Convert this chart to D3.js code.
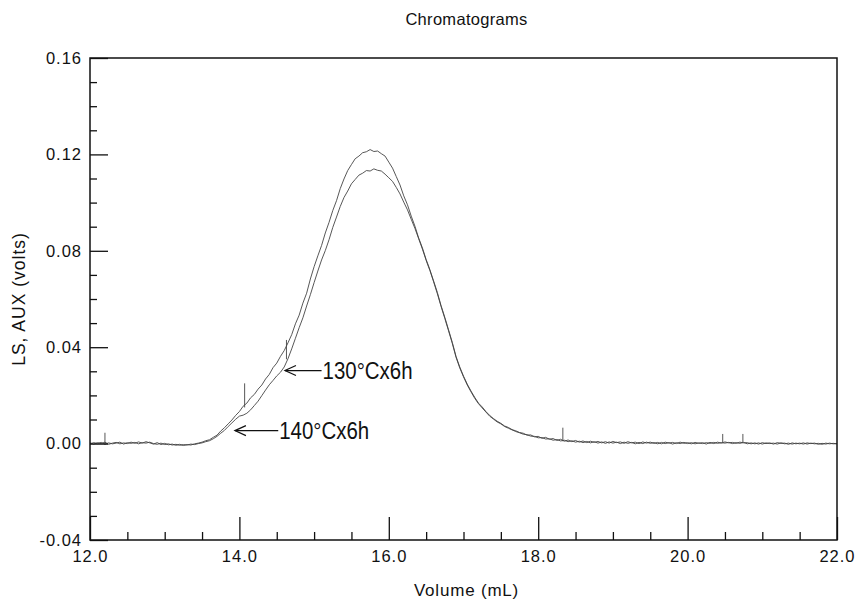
<!DOCTYPE html>
<html><head><meta charset="utf-8">
<script src="https://cdn.jsdelivr.net/npm/d3@7"></script>
<style>
body{margin:0;background:#fff;}
svg{display:block;}
text{font-family:"Liberation Sans",Arial,sans-serif;fill:#111;}
</style></head>
<body><svg id="c" width="856" height="601"></svg>
<script>
const title = "Chromatograms";
const xLabel = "Volume (mL)";
const yLabel = "LS, AUX (volts)";
const xTicks = [12.0, 14.0, 16.0, 18.0, 20.0, 22.0];
const xMinorTicks = [12.5,13.0,13.5,14.5,15.0,15.5,16.5,17.0,17.5,18.5,19.0,19.5,20.5,21.0,21.5];
const yTicks = [-0.04, 0.00, 0.04, 0.08, 0.12, 0.16];
const yMinorTicks = [-0.03,-0.02,-0.01,0.01,0.02,0.03,0.05,0.06,0.07,0.09,0.10,0.11,0.13,0.14,0.15];

const volume = [12.00,12.05,12.10,12.15,12.20,12.25,12.30,12.35,12.40,12.45,12.50,12.55,12.60,12.65,12.70,12.75,12.80,12.85,12.90,12.95,
13.00,13.05,13.10,13.15,13.20,13.25,13.30,13.35,13.40,13.45,13.50,13.55,13.60,13.65,13.70,13.75,13.80,13.85,13.90,13.95,
14.00,14.05,14.10,14.15,14.20,14.25,14.30,14.35,14.40,14.45,14.50,14.55,14.60,14.65,14.70,14.75,14.80,14.85,14.90,14.95,
15.00,15.05,15.10,15.15,15.20,15.25,15.30,15.35,15.40,15.45,15.50,15.55,15.60,15.65,15.70,15.75,15.80,15.85,15.90,15.95,
16.00,16.05,16.10,16.15,16.20,16.25,16.30,16.35,16.40,16.45,16.50,16.55,16.60,16.65,16.70,16.75,16.80,16.85,16.90,16.95,
17.00,17.05,17.10,17.15,17.20,17.25,17.30,17.35,17.40,17.45,17.50,17.55,17.60,17.65,17.70,17.75,17.80,17.85,17.90,17.95,
18.00,18.05,18.10,18.15,18.20,18.25,18.30,18.35,18.40,18.45,18.50,18.55,18.60,18.65,18.70,18.75,18.80,18.85,18.90,18.95,
19.00,19.05,19.10,19.15,19.20,19.25,19.30,19.35,19.40,19.45,19.50,19.55,19.60,19.65,19.70,19.75,19.80,19.85,19.90,19.95,
20.00,20.05,20.10,20.15,20.20,20.25,20.30,20.35,20.40,20.45,20.50,20.55,20.60,20.65,20.70,20.75,20.80,20.85,20.90,20.95,
21.00,21.05,21.10,21.15,21.20,21.25,21.30,21.35,21.40,21.45,21.50,21.55,21.60,21.65,21.70,21.75,21.80,21.85,21.90,21.95,22.00];

// 140 °C x 6 h (taller trace)
const ls140 = [0.0003,-0.0002,0.0004,0.0000,0.0006,-0.0003,0.0002,0.0005,-0.0001,0.0003,0.0000,0.0006,0.0001,0.0007,0.0002,0.0008,0.0003,-0.0002,0.0004,-0.0004,
0.0001,-0.0005,-0.0002,-0.0007,-0.0003,-0.0008,-0.0004,-0.0006,-0.0001,0.0002,0.0006,0.0012,0.0016,0.0026,0.0035,0.0052,0.0066,0.0082,0.0098,0.0117,
0.0133,0.0155,0.0168,0.0190,0.0204,0.0226,0.0243,0.0268,0.0287,0.0315,0.0334,0.0362,0.0386,0.0418,0.0452,0.0497,0.0533,0.0583,0.0624,0.0683,
0.0734,0.0779,0.0822,0.0874,0.0918,0.0967,0.1008,0.1058,0.1098,0.1133,0.1158,0.1182,0.1193,0.1207,0.1211,0.1220,0.1212,0.1214,0.1203,0.1193,
0.1168,0.1143,0.1108,0.1073,0.1028,0.0991,0.0944,0.0902,0.0853,0.0812,0.0764,0.0722,0.0675,0.0627,0.0572,0.0524,0.0472,0.0420,0.0362,0.0318,
0.0280,0.0247,0.0218,0.0192,0.0168,0.0152,0.0133,0.0117,0.0104,0.0093,0.0084,0.0073,0.0067,0.0058,0.0053,0.0046,0.0043,0.0035,0.0036,0.0028,
0.0030,0.0022,0.0026,0.0018,0.0021,0.0013,0.0018,0.0010,0.0015,0.0008,0.0013,0.0006,0.0011,0.0004,0.0010,0.0005,0.0009,0.0003,0.0008,0.0002,
0.0009,0.0004,0.0007,0.0001,0.0008,0.0003,0.0006,0.0000,0.0007,0.0002,0.0006,0.0001,0.0005,-0.0001,0.0006,0.0002,0.0005,0.0000,0.0006,0.0001,
0.0004,-0.0001,0.0005,0.0001,0.0004,-0.0002,0.0005,0.0000,0.0006,0.0002,0.0007,0.0003,0.0005,0.0001,0.0006,0.0003,0.0004,-0.0001,0.0003,-0.0002,
0.0004,0.0000,0.0003,-0.0002,0.0004,0.0001,0.0002,-0.0003,0.0003,-0.0001,0.0002,-0.0002,0.0003,0.0000,0.0002,-0.0003,0.0001,-0.0002,0.0002,-0.0001,0.0000];

// 130 °C x 6 h (lower trace)
const ls130 = [-0.0001,0.0004,0.0000,0.0005,-0.0002,0.0003,-0.0001,0.0002,0.0006,-0.0002,0.0004,0.0001,0.0005,-0.0001,0.0004,0.0002,0.0006,0.0000,-0.0003,0.0002,
-0.0004,-0.0001,-0.0006,-0.0003,-0.0007,-0.0004,-0.0006,-0.0002,-0.0004,0.0000,0.0003,0.0008,0.0012,0.0020,0.0030,0.0043,0.0055,0.0071,0.0086,0.0101,
0.0114,0.0118,0.0126,0.0140,0.0158,0.0176,0.0199,0.0222,0.0244,0.0262,0.0281,0.0296,0.0318,0.0352,0.0393,0.0437,0.0481,0.0522,0.0571,0.0618,
0.0668,0.0716,0.0762,0.0801,0.0846,0.0897,0.0940,0.0984,0.1021,0.1048,0.1078,0.1096,0.1114,0.1122,0.1133,0.1131,0.1140,0.1134,0.1131,0.1118,
0.1103,0.1088,0.1063,0.1036,0.1002,0.0970,0.0931,0.0893,0.0850,0.0807,0.0760,0.0718,0.0671,0.0622,0.0569,0.0519,0.0468,0.0416,0.0358,0.0314,
0.0277,0.0243,0.0215,0.0188,0.0166,0.0148,0.0131,0.0114,0.0102,0.0090,0.0082,0.0071,0.0064,0.0057,0.0050,0.0045,0.0039,0.0037,0.0031,0.0030,
0.0024,0.0025,0.0019,0.0020,0.0014,0.0017,0.0011,0.0014,0.0008,0.0012,0.0006,0.0010,0.0004,0.0009,0.0003,0.0008,0.0002,0.0007,0.0001,0.0007,
0.0002,0.0006,0.0000,0.0006,0.0001,0.0005,-0.0001,0.0005,0.0000,0.0006,0.0001,0.0004,-0.0001,0.0005,0.0000,0.0004,-0.0002,0.0004,0.0000,0.0005,
0.0000,0.0004,-0.0001,0.0003,0.0000,0.0004,0.0001,0.0005,0.0001,0.0004,0.0002,0.0005,0.0000,0.0004,0.0001,0.0005,-0.0001,0.0003,-0.0001,0.0003,
-0.0002,0.0003,0.0000,0.0002,-0.0002,0.0003,-0.0001,0.0002,-0.0002,0.0002,-0.0001,0.0003,-0.0002,0.0002,-0.0001,0.0001,-0.0003,0.0002,-0.0001,0.0001,-0.0001];

// isolated detector spikes: volume, bottom, top
const spikeVol = [12.20, 14.07, 14.63, 18.33, 20.47, 20.74];
const spikeLow = [-0.0004, 0.0150, 0.0350, 0.0010, 0.0005, 0.0005];
const spikeHigh = [0.0045, 0.0250, 0.0430, 0.0066, 0.0040, 0.0040];

// annotations: label, arrow tip (volume, volts), arrow tail volume
const annLabels = ["130°Cx6h", "140°Cx6h"];
const annTipVol = [14.61, 13.94];
const annTipVal = [0.0303, 0.0054];
const annTailVol = [15.10, 14.52];

const W = 856, H = 601;
const m = {l: 90, r: 19, t: 58, b: 61};
const svg = d3.select("#c");
const x = d3.scaleLinear().domain([12, 22]).range([m.l, W - m.r]);
const y = d3.scaleLinear().domain([-0.04, 0.16]).range([H - m.b, m.t]);

// traces
const line = d3.line().x(d => x(d[0])).y(d => y(d[1]));
[ls140, ls130].forEach(s => {
  svg.append("path").datum(volume.map((v, i) => [v, s[i]]))
    .attr("d", line).attr("fill", "none")
    .attr("stroke", "#444").attr("stroke-width", 0.9);
});
spikeVol.forEach((v, i) => {
  svg.append("line").attr("x1", x(v)).attr("x2", x(v))
    .attr("y1", y(spikeLow[i])).attr("y2", y(spikeHigh[i]))
    .attr("stroke", "#444").attr("stroke-width", 0.9);
});

// axes
const gx = svg.append("g").attr("transform", `translate(0,${H - m.b})`)
  .call(d3.axisBottom(x).tickValues(xTicks).tickSize(-23).tickPadding(10).tickFormat(d3.format(".1f")));
const gxm = svg.append("g").attr("transform", `translate(0,${H - m.b})`)
  .call(d3.axisBottom(x).tickValues(xMinorTicks).tickSize(-8).tickFormat(""));
const gy = svg.append("g").attr("transform", `translate(${m.l},0)`)
  .call(d3.axisLeft(y).tickValues(yTicks).tickSize(-18).tickPadding(8).tickFormat(d3.format(".2f")));
const gym = svg.append("g").attr("transform", `translate(${m.l},0)`)
  .call(d3.axisLeft(y).tickValues(yMinorTicks).tickSize(-7).tickFormat(""));
[gx, gxm, gy, gym].forEach(g => {
  g.select(".domain").remove();
  g.selectAll(".tick line").attr("stroke", "#111").attr("stroke-width", 1.3);
  g.selectAll(".tick text").attr("font-size", 16.5).attr("letter-spacing", "1px")
    .attr("font-family", "Liberation Sans, Arial, sans-serif").attr("fill", "#111");
});
gy.selectAll(".tick text").text(d => d3.format(".2f")(d).replace("−", "-"));

svg.append("rect").attr("x", m.l).attr("y", m.t)
  .attr("width", W - m.r - m.l).attr("height", H - m.b - m.t)
  .attr("fill", "none").attr("stroke", "#111").attr("stroke-width", 1.5);

// titles
svg.append("text").attr("x", (m.l + W - m.r) / 2 + 3).attr("y", 25)
  .attr("text-anchor", "middle").attr("font-size", 16.5).attr("letter-spacing", "0.3px").text(title);
svg.append("text").attr("x", (m.l + W - m.r) / 2 + 3).attr("y", 596)
  .attr("text-anchor", "middle").attr("font-size", 17).attr("letter-spacing", "0.8px").text(xLabel);
svg.append("text").attr("transform", `translate(25,${(m.t + H - m.b) / 2}) rotate(-90)`)
  .attr("text-anchor", "middle").attr("font-size", 17.5).attr("letter-spacing", "1px").text(yLabel);

// annotations
annLabels.forEach((lab, i) => {
  const tx = x(annTipVol[i]), ty = y(annTipVal[i]), ex = x(annTailVol[i]);
  svg.append("line").attr("x1", tx).attr("x2", ex).attr("y1", ty).attr("y2", ty)
    .attr("stroke", "#111").attr("stroke-width", 1.2);
  svg.append("path").attr("d", `M${tx + 11},${ty - 5}L${tx},${ty}L${tx + 11},${ty + 5}`)
    .attr("fill", "none").attr("stroke", "#111").attr("stroke-width", 1.2);
  svg.append("text").attr("x", ex + 1).attr("y", ty + 8)
    .attr("font-family", "Roboto, sans-serif").attr("font-weight", 300)
    .attr("font-size", 23).attr("textLength", 90).attr("lengthAdjust", "spacingAndGlyphs")
    .text(lab);
});
</script></body></html>
